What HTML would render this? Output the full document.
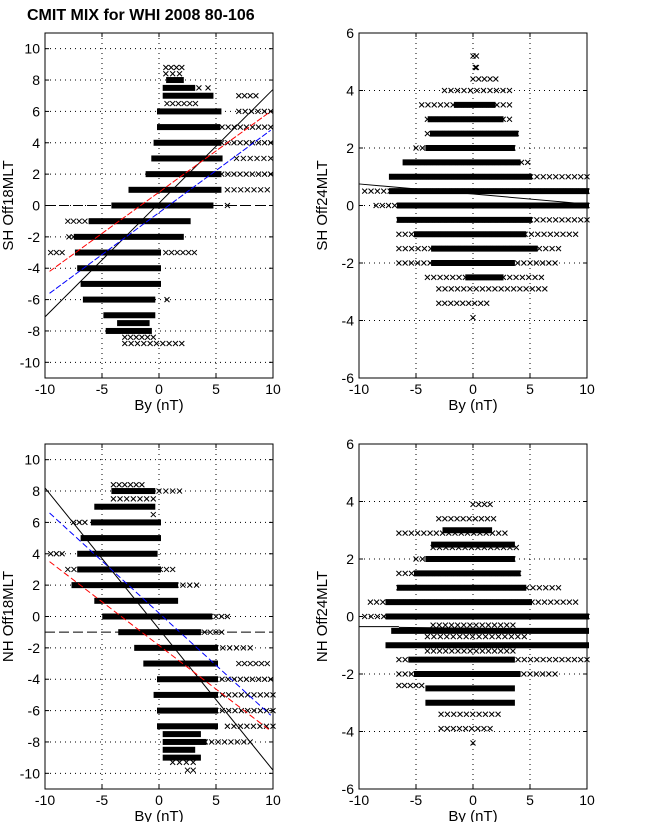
<!DOCTYPE html>
<html><head><meta charset="utf-8"><style>
body{margin:0;background:#fff;}
svg{display:block;font-family:"Liberation Sans",sans-serif;}
</style></head><body>
<svg id="fig" width="647" height="822" viewBox="0 0 647 822">
<text x="27" y="20" font-size="16" font-weight="bold">CMIT MIX for WHI 2008 80-106</text>
</svg>
<script>
const tlDenseY  = [8, 7.5, 7, 6, 5, 4, 3, 2, 1, 0, -1, -2, -3, -4, -5, -6, -7, -7.5, -8];
const tlDenseX0 = [0.8, 0.5, 0.5, 0, 0, -0.3, -0.5, -1, -2.5, -4, -6, -7.3, -7.2, -7, -6.7, -6.5, -4.7, -3.5, -4.5];
const tlDenseX1 = [2.0, 3.0, 4.6, 5.3, 5.2, 5.3, 5.4, 5.3, 5.3, 4.6, 2.6, 2.0, 0, 0, 0, -0.5, -0.5, -1, -0.8];
const tlSparseY  = [8.8, 8.4, 7.5, 7, 6.5, 6, 5, 4, 3, 2, 1, 0, -1, -2, -3, -3, -8.4, -8.8, -6];
const tlSparseX0 = [0.6, 0.6, 3.5, 7.0, 0.7, 7.0, 5.0, 5.5, 6.8, 5.5, 6.0, 6.0, -8, -7.9, -9.5, 0.6, -3.0, -3, 0.7];
const tlSparseX1 = [2.0, 1.8, 4.3, 8.5, 3.2, 9.8, 9.8, 9.8, 9.8, 9.8, 9.5, 6.0, -6.5, -7.5, -8.5, 3.1, -0.5, 2.0, 0.7];
const tlLines = [[-10,-7.1,10,7.4,'#000',''],[-9.6,-4.2,9.8,6,'#f00','6,2'],[-9.6,-5.6,9.8,4.8,'#00f','6,2'],[-10,0,10,0,'#000','10,4']];

const trDenseY  = [3.5, 3, 2.5, 2, 1.5, 1, 0.5, 0, -0.5, -1, -1.5, -2, -2.5];
const trDenseX0 = [-1.5, -3.8, -3.6, -4, -6, -7.2, -7.2, -6.5, -6.5, -5, -3.5, -3.5, -0.5];
const trDenseX1 = [1.8, 2.5, 3.8, 3.5, 4.0, 5.0, 10, 10, 5.0, 4.5, 5.5, 3.5, 2.5];
const trSparseY  = [5.2, 4.8, 4.4, 4, 3.5, 3, 2.5, 2, 1.5, 1, 0.5, 0, -0.5, -1, -1.5, -2, -2.5, -2.9, -3.4, -3.9];
const trSparseX0 = [0, 0.2, 0, -2.5, -4.5, -4, -4, -5, -5, -7, -9.5, -8.5, -6.5, -6.5, -6.5, -6.5, -4, -3, -3, 0];
const trSparseX1 = [0.3, 0.3, 2, 3.2, 3.2, 3.2, 3.8, 3.5, 4.8, 10, 10, 10, 10, 9, 7.5, 7.2, 6, 6.3, 1.2, 0];
const trLines = [[-10,0.75,10,0.05,'#000','']];

const blDenseY  = [8, 7, 6, 5, 4, 3, 2, 1, 0, -1, -2, -3, -4, -5, -6, -7, -7.5, -8, -8.5, -9];
const blDenseX0 = [-4, -5.5, -5.8, -6.7, -7, -7, -7.5, -5.5, -4.8, -3.4, -2, -1.2, 0, -0.3, 0, 0, 0.5, 0.5, 0.5, 0.5];
const blDenseX1 = [-0.5, -0.5, 0, 0, -0.3, 0, 1.5, 1.5, 4.5, 3.5, 5, 5, 5, 5, 5, 5, 3.5, 4, 3.0, 3.5];
const blSparseY  = [8.4, 8, 7.5, 6.5, 6, 4, 3, 2, 0, -1, -2, -3, -4, -5, -6, -7, -8, -9.3, -9.8];
const blSparseX0 = [-4, 0, -4, -0.5, -7.5, -9.5, -8, 1.5, 4.5, 3.5, 5, 7, 5, 5, 5, 6, 3.5, 1.2, 2.5];
const blSparseX1 = [-1.5, 1.8, -0.5, -0.5, -6.5, -8.5, 1.2, 3.3, 6, 5.5, 8, 9.5, 9.8, 10, 10, 10, 8, 3.0, 3.0];
const blLines = [[-10,8.2,10,-9.8,'#000',''],[-9.6,6.6,9.8,-6.3,'#00f','6,3'],[-9.6,3.5,9.8,-7.3,'#f00','6,3'],[-10,-1,10,-1,'#000','10,4']];

const brDenseY  = [3, 2.5, 2, 1.5, 1, 0.5, 0, -0.5, -1, -1.5, -2, -2.5, -3];
const brDenseX0 = [-2.5, -3.5, -4, -5, -6.5, -7.5, -7.5, -7, -7.5, -5.5, -5, -4, -4];
const brDenseX1 = [1.5, 3.5, 3.5, 4, 4.5, 5, 10, 10, 10, 3.5, 4, 3.5, 3.5];
const brSparseY  = [3.9, 3.4, 2.9, 2.4, 2, 1.5, 1, 0.5, 0, -0.3, -0.7, -1.2, -1.5, -2, -2.4, -3.4, -3.9, -4.4];
const brSparseX0 = [0, -3, -6.5, -3.5, -5, -6.5, -6.5, -9, -9.5, -3.5, -4, -4, -6.5, -6.5, -6.5, -2.8, -2.8, 0];
const brSparseX1 = [1.5, 1.8, 2.8, 3.8, 3.5, 4, 7.5, 9, 10, 3.5, 4.5, 3.5, 10, 7.2, -4.5, 2.2, 1.5, 0];
const brLines = [[-10,-0.35,-6.5,-0.35,'#000',''],[-6.5,-0.38,10,-0.45,'#000','']];

const xTicks = [-10, -5, 0, 5, 10];
const yTicksBig = [-10, -8, -6, -4, -2, 0, 2, 4, 6, 8, 10];
const yTicksSmall = [-6, -4, -2, 0, 2, 4, 6];

const NS = 'http://www.w3.org/2000/svg';
const svg = document.getElementById('fig');
function mk(tag, attrs, parent){const e=document.createElementNS(NS,tag);for(const k in attrs)e.setAttribute(k,attrs[k]);(parent||svg).appendChild(e);return e;}

function panel(p){
  const g = mk('g',{});
  
  
  const sx = v => p.L + (v - (-10)) / 20 * (p.R - p.L);
  const sy = v => p.B - (v - p.ymin) / (p.ymax - p.ymin) * (p.B - p.T);
  xTicks.forEach(t=>{ if(t>-10&&t<10){ const l=mk('line',{x1:sx(t),x2:sx(t),y1:p.T,y2:p.B,stroke:'#000','stroke-width':1,'stroke-dasharray':'1,4'},g);
    
    }});
  p.yt.forEach(t=>{ if(t>p.ymin&&t<p.ymax){ const l=mk('line',{x1:p.L,x2:p.R,y1:sy(t),y2:sy(t),stroke:'#000','stroke-width':1,'stroke-dasharray':'1,4'},g);
    
    }});
  const dg = mk('g',{},g);
  
  
  p.dy.forEach((y,i)=>{ const x0=sx(p.dx0[i]), x1=sx(p.dx1[i]);
    const r=mk('rect',{x:Math.min(x0,x1)-2,y:sy(y)-3,width:Math.abs(x1-x0)+4,height:6,fill:'#000'},dg);
    
    });
  const sg = mk('g',{stroke:'#000','stroke-width':1},g);
  
  
  p.sy.forEach((y,i)=>{ const a=p.sx0[i], b=p.sx1[i]; const n=Math.max(1,Math.round(Math.abs(b-a)/0.55));
    for(let k=0;k<=n;k++){ const xv = a + (b-a)*k/n; const cx=sx(xv), cy=sy(y);
      const m=mk('path',{d:`M${cx-2.5},${cy-2.5}L${cx+2.5},${cy+2.5}M${cx-2.5},${cy+2.5}L${cx+2.5},${cy-2.5}`},sg);
      
      
      if(a===b)break; }});
  p.lines.forEach(l=>{ const ln=mk('line',{x1:sx(l[0]),y1:sy(l[1]),x2:sx(l[2]),y2:sy(l[3]),stroke:l[4],'stroke-width':1},g);
    if(l[5]) ln.setAttribute('stroke-dasharray',l[5]);
    
    });
  const fr=mk('rect',{x:p.L,y:p.T,width:p.R-p.L,height:p.B-p.T,fill:'none',stroke:'#000','stroke-width':1},g);
  
  
  xTicks.forEach(t=>{ const tx=mk('text',{x:sx(t),y:p.B+16,'font-size':14,'text-anchor':'middle'},g); tx.textContent=t;
    
    
    mk('line',{x1:sx(t),x2:sx(t),y1:p.B,y2:p.B-4,stroke:'#000'},g); mk('line',{x1:sx(t),x2:sx(t),y1:p.T,y2:p.T+4,stroke:'#000'},g);});
  p.yt.forEach(t=>{ const tx=mk('text',{x:p.L-5,y:sy(t)+5,'font-size':14,'text-anchor':'end'},g); tx.textContent=t;
    
    
    mk('line',{x1:p.L,x2:p.L+4,y1:sy(t),y2:sy(t),stroke:'#000'},g); mk('line',{x1:p.R,x2:p.R-4,y1:sy(t),y2:sy(t),stroke:'#000'},g);});
  const xl=mk('text',{x:(p.L+p.R)/2,y:p.B+32,'font-size':15,'text-anchor':'middle'},g); xl.textContent='By (nT)';
  
  
  const yx=p.L-32, ymid=(p.T+p.B)/2;
  const yl=mk('text',{x:yx,y:ymid,'font-size':15,'text-anchor':'middle',transform:`rotate(-90 ${yx} ${ymid})`},g); yl.textContent=p.ylabel;
  
  
}
panel({name:'panel-sh-off18mlt',L:45,R:273,T:33,B:378,ymin:-11,ymax:11,yt:yTicksBig,ylabel:'SH Off18MLT',dy:tlDenseY,dx0:tlDenseX0,dx1:tlDenseX1,sy:tlSparseY,sx0:tlSparseX0,sx1:tlSparseX1,lines:tlLines});
panel({name:'panel-sh-off24mlt',L:359,R:587,T:33,B:378,ymin:-6,ymax:6,yt:yTicksSmall,ylabel:'SH Off24MLT',dy:trDenseY,dx0:trDenseX0,dx1:trDenseX1,sy:trSparseY,sx0:trSparseX0,sx1:trSparseX1,lines:trLines});
panel({name:'panel-nh-off18mlt',L:45,R:273,T:444,B:789,ymin:-11,ymax:11,yt:yTicksBig,ylabel:'NH Off18MLT',dy:blDenseY,dx0:blDenseX0,dx1:blDenseX1,sy:blSparseY,sx0:blSparseX0,sx1:blSparseX1,lines:blLines});
panel({name:'panel-nh-off24mlt',L:359,R:587,T:444,B:789,ymin:-6,ymax:6,yt:yTicksSmall,ylabel:'NH Off24MLT',dy:brDenseY,dx0:brDenseX0,dx1:brDenseX1,sy:brSparseY,sx0:brSparseX0,sx1:brSparseX1,lines:brLines});
</script>
</body></html>
